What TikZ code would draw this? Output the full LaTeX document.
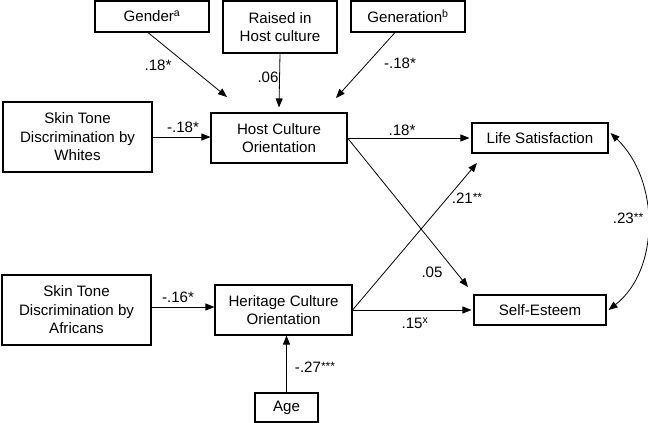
\documentclass[tikz,border=0pt]{standalone}
\usepackage{fontspec}
\setmainfont{Liberation Sans}
\usetikzlibrary{arrows.meta,calc}
\newcommand{\smst}[1]{\raisebox{1.5pt}{\fontsize{12}{12}\selectfont #1}}
\begin{document}
\begin{tikzpicture}[x=1pt,y=-1pt,
  box/.style={draw,line width=1.1pt,align=center,inner sep=0pt,font=\fontsize{15.1}{18.5}\selectfont},
  conn/.style={line width=0.8pt,-{Triangle[length=9pt,width=7pt]}},
  biconn/.style={line width=0.8pt,{Triangle[length=9pt,width=7pt]}-{Triangle[length=9pt,width=7pt]}},
  lbl/.style={font=\fontsize{15.1}{18}\selectfont,inner sep=0pt}]
\useasboundingbox (0,0) rectangle (648,423);
% boxes
\node[box,minimum width=114pt,minimum height=31pt] (gender) at (152,16.5) {Gender\textsuperscript{a}};
\node[box,minimum width=114pt,minimum height=52pt] (raised) at (280,27) {Raised in\\Host culture};
\node[box,minimum width=114pt,minimum height=31pt] (generation) at (408,16.5) {Generation\textsuperscript{b}};
\node[box,minimum width=149pt,minimum height=70pt] (whites) at (77.5,137) {Skin Tone\\Discrimination by\\Whites};
\node[box,minimum width=136pt,minimum height=50pt] (host) at (279,138) {Host Culture\\Orientation};
\node[box,minimum width=136pt,minimum height=30pt] (life) at (540,138) {Life Satisfaction};
\node[box,minimum width=149pt,minimum height=70pt] (africans) at (76.5,310) {Skin Tone\\Discrimination by\\Africans};
\node[box,minimum width=137pt,minimum height=50pt] (heritage) at (283.5,310) {Heritage Culture\\Orientation};
\node[box,minimum width=132pt,minimum height=30pt] (self) at (540,310) {Self-Esteem};
\node[box,minimum width=63pt,minimum height=29pt] (age) at (286.5,407.5) {Age};
% free arrow ends
\coordinate (gtip) at (227,97);
\coordinate (gentip) at (336,98);
\coordinate (stip) at (468,287);
\coordinate (ltip) at (477,163);
% connectors
\draw[conn] ([xshift=-4pt]gender.south) -- (gtip);
\draw[conn] (raised.south) -- ([yshift=5pt]host.north);
\draw[conn] ([xshift=-13pt]generation.south) -- (gentip);
\draw[conn] (whites.east) -- (whites.east -| host.west);
\draw[conn] (host.east) -- ([xshift=-2pt]host.east -| life.west);
\draw[conn] (host.east) -- (stip);
\draw[conn] (heritage.east) -- (ltip);
\draw[conn] (heritage.east) -- ([xshift=-2pt]heritage.east -| self.west);
\draw[conn] ([yshift=3pt]africans.east) -- ([yshift=3pt]africans.east -| heritage.west);
\draw[conn] (age.north) -- (age.north |- heritage.south);
\draw[biconn] ([xshift=2pt,yshift=5pt]life.east) .. controls (660,180) and (660,270) .. ([xshift=2pt]self.east);
% labels
\node[lbl] (l1) at (158,65) {.18*};
\node[lbl] (l2) at (268,77) {.06};
\node[lbl] (l3) at (400,63) {-.18*};
\node[lbl] (l4) at (183,127) {-.18*};
\node[lbl] (l5) at (402,130) {.18*};
\node[lbl] (l6) at (467,198) {.21\smst{**}};
\node[lbl] (l7) at (628,218) {.23\smst{**}};
\node[lbl] (l8) at (432,272) {.05};
\node[lbl] (l9) at (178,297) {-.16*};
\node[lbl] (l10) at (415,323) {.15\textsuperscript{x}};
\node[lbl] (l11) at (315,367) {-.27\smst{***}};
\end{tikzpicture}
\end{document}
